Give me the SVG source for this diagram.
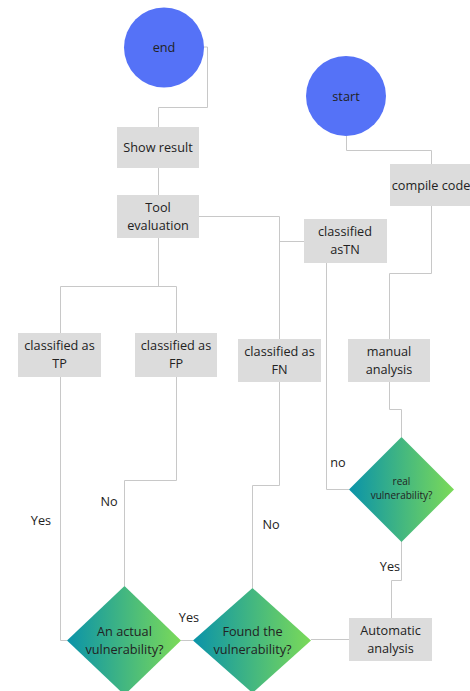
<svg xmlns="http://www.w3.org/2000/svg" width="470" height="691" viewBox="0 0 470 691">
<style>
.c{fill:#5572f7}
.b{fill:#dcdcdc}
.l{fill:none;stroke:#c8c8c8;stroke-width:1}
text{font-family:"Open Sans","Noto Sans","Liberation Sans",sans-serif;font-size:12.7px;fill:#222;text-anchor:middle}
.s{font-size:10px}
</style>
<defs>
<linearGradient id="g" x1="0" y1="0" x2="1" y2="0">
<stop offset="0" stop-color="#0a93a9"/>
<stop offset="1" stop-color="#7bda58"/>
</linearGradient>
</defs>
<rect width="470" height="691" fill="#fff"/>
<g id="connectors">
<path class="l" d="M204,47 H207.5 V107.5 H158.5 V127"/>
<path class="l" d="M158.5,168 V195"/>
<path class="l" d="M199,216.5 H279.5 V339"/>
<path class="l" d="M279.5,241.5 H304"/>
<path class="l" d="M158.5,238 V286.5"/>
<path class="l" d="M60.5,333 V286.5 H176.5 V333"/>
<path class="l" d="M346.5,136 V150.5 H431.5 V164"/>
<path class="l" d="M431.5,206 V273.5 H389.5 V339"/>
<path class="l" d="M389.5,382 V409.5 H401.5 V437"/>
<path class="l" d="M349,489.5 H326.5 V263"/>
<path class="l" d="M401.5,541 V580.5 H391.5 V618"/>
<path class="l" d="M349,639.5 H311"/>
<path class="l" d="M193,640.5 H181"/>
<path class="l" d="M67,640.5 H60.5 V377"/>
<path class="l" d="M176.5,377 V480.5 H124.5 V586"/>
<path class="l" d="M279.5,382 V485.5 H252.5 V588"/>
<text x="338" y="467">no</text>
<text x="390" y="571">Yes</text>
<text x="189" y="622">Yes</text>
<text x="41" y="525">Yes</text>
<text x="109" y="506">No</text>
<text x="271" y="529">No</text>
</g>
<g id="end"><circle class="c" cx="164" cy="47.5" r="40"/><text x="164" y="52">end</text></g>
<g id="start"><circle class="c" cx="346" cy="96" r="40"/><text x="346" y="100.5">start</text></g>
<g id="show-result"><rect class="b" x="117" y="127" width="82" height="41"/><text x="158" y="152">Show result</text></g>
<g id="tool-evaluation"><rect class="b" x="117" y="195" width="82" height="43"/><text x="158" y="212">Tool</text><text x="158" y="229.5">evaluation</text></g>
<g id="classified-tn"><rect class="b" x="304" y="219" width="83" height="44"/><text x="345" y="236">classified</text><text x="345" y="253.5">asTN</text></g>
<g id="compile-code"><rect class="b" x="390" y="164" width="84" height="42"/><text x="431" y="189.5">compile code</text></g>
<g id="classified-tp"><rect class="b" x="18" y="333" width="83" height="44"/><text x="59.5" y="350">classified as</text><text x="59.5" y="367.5">TP</text></g>
<g id="classified-fp"><rect class="b" x="135" y="333" width="82" height="44"/><text x="176" y="350">classified as</text><text x="176" y="367.5">FP</text></g>
<g id="classified-fn"><rect class="b" x="238" y="339" width="83" height="43"/><text x="279.5" y="356">classified as</text><text x="279.5" y="373.5">FN</text></g>
<g id="manual-analysis"><rect class="b" x="348" y="339" width="82" height="43"/><text x="389" y="356">manual</text><text x="389" y="373.5">analysis</text></g>
<g id="real-vulnerability"><polygon fill="url(#g)" points="401.5,437 454,489.5 401.5,542 349,489.5"/><text class="s" x="401.5" y="485">real</text><text class="s" x="401.5" y="499">vulnerability?</text></g>
<g id="automatic-analysis"><rect class="b" x="349" y="618" width="83" height="43"/><text x="390.5" y="635">Automatic</text><text x="390.5" y="652.5">analysis</text></g>
<g id="found-vulnerability"><polygon fill="url(#g)" points="252.5,588 311,640.5 252.5,693 193,640.5"/><text x="252.5" y="636">Found the</text><text x="252.5" y="653.5">vulnerability?</text></g>
<g id="actual-vulnerability"><polygon fill="url(#g)" points="124.5,586 181,640.5 124.5,695 67,640.5"/><text x="124.5" y="636">An actual</text><text x="124.5" y="653.5">vulnerability?</text></g>
</svg>
